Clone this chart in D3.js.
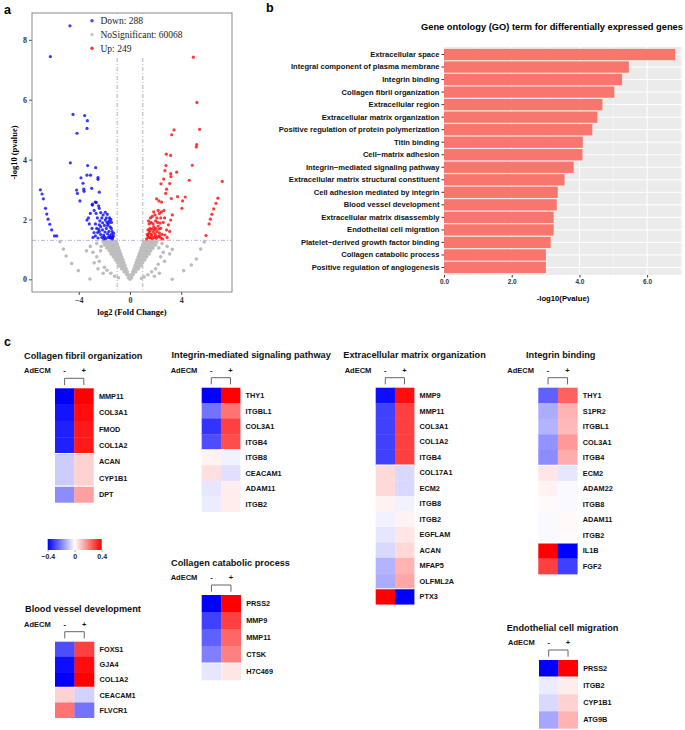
<!DOCTYPE html>
<html><head><meta charset="utf-8">
<script src="https://cdn.jsdelivr.net/npm/d3@7"></script>
<style>body{margin:0;background:#fff} svg{display:block}</style>
</head><body>
<svg id="fig" width="685" height="730"></svg>
<script>
// ---------------- DATA ----------------
// Panel a: volcano plot
const volcanoXTicks = [-4, 0, 4];
const volcanoYTicks = [0, 2, 4, 6, 8];
const legendLabels = ["Down: 288", "NoSignificant: 60068", "Up: 249"];
const fcCut = [-1, 1];
const pCut = 1.301;

const downPoints = [
 [-4.69,8.47],[-6.22,7.44],[-4.45,5.51],[-3.54,5.47],[-3.33,5.30],[-3.36,5.04],[-4.14,4.88],
 [-4.66,3.89],[-3.31,3.80],[-2.68,3.73],[-3.36,3.48],[-3.08,3.48],[-2.5,3.40],[-2.5,3.34],
 [-3.83,3.39],[-3.67,3.21],[-2.99,3.04],[-4.17,2.98],[-3.61,3.01],[-4.11,2.87],[-3.59,2.94],
 [-2.40,2.91],[-3.91,2.62],[-2.72,2.58],[-2.94,2.51],
 [-7.0,2.99],[-6.87,2.85],[-6.77,2.69],[-6.6,2.37],[-6.5,2.18],[-6.4,2.01],[-6.27,1.84],
 [-6.12,1.65],[-5.9,1.45],[-5.72,1.45],
 [-2.94,2.48],[-2.63,2.57],[-2.40,2.37],[-2.29,2.23],[-1.93,2.24],[-1.77,2.17],[-3.36,1.98],
 [-3.18,1.85],[-2.97,1.70],[-2.81,1.56],[-2.89,1.40],[-2.53,1.56],[-2.45,1.67],[-2.29,1.76],
 [-2.14,1.89],[-1.93,1.98],[-1.67,1.87],[-1.46,1.70],[-1.28,1.54],[-1.35,1.40],[-1.72,1.40],
 [-2.06,1.48],[-2.55,2.05],[-2.2,2.05],[-1.6,2.05],[-2.35,1.95],[-1.8,1.9],[-2.0,1.8],
 [-1.55,1.75],[-1.85,1.7],[-2.15,1.65],[-1.65,1.6],[-1.95,1.58],[-2.3,1.5],[-1.45,1.5],
 [-1.75,1.52],[-2.2,1.4],[-1.55,1.38],[-1.9,1.36],[-2.5,1.38],[-1.4,1.6],[-1.3,1.45],
 [-2.65,2.2],[-2.1,2.15],[-1.5,2.0],[-2.7,1.85],[-2.6,1.7],[-2.4,1.6],[-1.6,1.45],
 [-2.0,1.42],[-1.38,1.35],[-1.75,1.8],[-2.45,2.45],[-2.8,2.3],[-3.1,2.2],[-3.25,2.05],
 [-1.45,1.9],[-1.85,2.05],[-2.05,1.35],[-1.62,1.95],[-2.4,1.82],[-1.5,1.4],[-2.7,1.45]
];
const upPoints = [
 [4.95,7.42],[5.23,5.91],[5.44,5.01],[3.44,4.99],[3.26,4.83],[5.21,4.50],[5.18,4.42],
 [2.84,4.18],[3.18,4.14],[4.87,3.81],[2.81,3.80],[2.73,3.63],[3.65,3.58],[3.18,3.53],
 [3.2,3.43],[4.63,3.31],[2.42,3.19],[2.63,3.35],[3.1,3.2],[2.86,3.01],[2.79,2.87],
 [3.23,2.7],[3.72,2.76],[4.11,2.62],[4.32,2.75],[4.06,2.37],[2.08,2.69],[2.26,2.62],[2.47,2.58],
 [7.21,3.27],[6.87,2.71],[6.72,2.54],[6.54,2.35],[6.4,2.17],[6.28,2.01],[6.18,1.85],[5.94,1.46],
 [1.3,1.35],[1.45,1.4],[1.6,1.38],[1.75,1.36],[1.9,1.4],[2.05,1.37],[2.2,1.42],[2.4,1.38],
 [1.35,1.5],[1.5,1.55],[1.65,1.5],[1.8,1.58],[1.95,1.52],[2.1,1.6],[2.3,1.55],[1.4,1.65],
 [1.55,1.7],[1.7,1.68],[1.85,1.75],[2.0,1.7],[2.2,1.78],[2.4,1.7],[1.5,1.85],[1.65,1.9],
 [1.8,1.85],[2.0,1.95],[2.15,1.9],[2.35,1.88],[1.6,2.05],[1.75,2.1],[1.95,2.15],[2.1,2.05],
 [2.3,2.2],[2.45,2.25],[1.85,2.25],[2.2,2.3],[2.5,1.5],[2.73,1.48],[2.86,1.65],[3.0,1.82],
 [3.18,1.98],[3.31,2.15],[2.6,1.9],[2.7,2.05],[2.55,1.35],[2.9,1.4],[3.1,1.6],[2.65,2.3],
 [2.4,2.05],[1.45,1.95],[1.4,1.45],[1.7,1.45],[2.0,1.45],[2.3,1.45],[1.55,1.62],[1.9,1.65],[2.25,1.68]
];
const nsPoints = [
 // left arm
 [0,0.01],[0.03,0.02],[-0.03,0.02],[-0.06,0.05],[-0.12,0.05],
 [-0.13,0.15],[-0.25,0.15],[-0.21,0.25],[-0.33,0.25],[-0.45,0.25],
 [-0.3,0.35],[-0.42,0.35],[-0.55,0.35],[-0.65,0.35],
 [-0.38,0.45],[-0.5,0.45],[-0.62,0.45],[-0.75,0.45],[-0.85,0.45],
 [-0.47,0.55],[-0.6,0.55],[-0.72,0.55],[-0.85,0.55],[-0.98,0.55],
 [-0.55,0.65],[-0.68,0.65],[-0.8,0.65],[-0.93,0.65],[-1.05,0.65],[-1.15,0.65],
 [-0.64,0.75],[-0.76,0.75],[-0.89,0.75],[-1.02,0.75],[-1.15,0.75],[-1.3,0.75],
 [-0.72,0.85],[-0.85,0.85],[-0.98,0.85],[-1.11,0.85],[-1.24,0.85],[-1.37,0.85],[-1.48,0.85],
 [-0.81,0.95],[-0.94,0.95],[-1.07,0.95],[-1.2,0.95],[-1.33,0.95],[-1.46,0.95],[-1.62,0.95],
 [-0.89,1.05],[-1.02,1.05],[-1.15,1.05],[-1.28,1.05],[-1.41,1.05],[-1.54,1.05],[-1.67,1.05],[-1.8,1.05],
 [-0.98,1.15],[-1.11,1.15],[-1.24,1.15],[-1.37,1.15],[-1.5,1.15],[-1.63,1.15],[-1.76,1.15],[-1.89,1.15],[-1.98,1.15],
 [-1.06,1.25],[-1.19,1.25],[-1.32,1.25],[-1.45,1.25],[-1.58,1.25],[-1.71,1.25],[-1.84,1.25],[-1.97,1.25],[-2.1,1.25],
 // right arm
 [0.06,0.05],[0.12,0.05],[0.13,0.15],[0.25,0.15],[0.21,0.25],[0.33,0.25],[0.45,0.25],
 [0.3,0.35],[0.42,0.35],[0.55,0.35],[0.66,0.35],
 [0.38,0.45],[0.5,0.45],[0.62,0.45],[0.75,0.45],[0.86,0.45],
 [0.47,0.55],[0.6,0.55],[0.72,0.55],[0.85,0.55],[0.99,0.55],
 [0.55,0.65],[0.68,0.65],[0.8,0.65],[0.93,0.65],[1.05,0.65],[1.16,0.65],
 [0.64,0.75],[0.76,0.75],[0.89,0.75],[1.02,0.75],[1.15,0.75],[1.3,0.75],
 [0.72,0.85],[0.85,0.85],[0.98,0.85],[1.11,0.85],[1.24,0.85],[1.37,0.85],[1.5,0.85],
 [0.81,0.95],[0.94,0.95],[1.07,0.95],[1.2,0.95],[1.33,0.95],[1.46,0.95],[1.62,0.95],
 [0.89,1.05],[1.02,1.05],[1.15,1.05],[1.28,1.05],[1.41,1.05],[1.54,1.05],[1.67,1.05],[1.8,1.05],
 [0.98,1.15],[1.11,1.15],[1.24,1.15],[1.37,1.15],[1.5,1.15],[1.63,1.15],[1.76,1.15],[1.89,1.15],[2.0,1.15],
 [1.06,1.25],[1.19,1.25],[1.32,1.25],[1.45,1.25],[1.58,1.25],[1.71,1.25],[1.84,1.25],[1.97,1.25],[2.1,1.25],
 // scattered
 [-5.47,1.26],[-5.2,1.01],[-4.99,0.78],[-4.56,0.53],[-4.04,0.29],[-3.13,0.01],
 [5.8,1.25],[5.52,1.01],[5.18,0.68],[4.79,0.48],[4.19,0.29],[3.3,0.0],
 [-3.1,1.1],[-2.9,0.9],[-2.6,0.75],[-2.8,0.55],[-2.4,0.6],[-2.3,0.95],[-2.6,1.2],[-2.0,0.4],
 [-1.8,0.3],[-1.5,0.2],[-1.2,0.1],[-2.1,0.2],[-0.9,0.05],[-3.4,0.95],[-2.5,0.35],[-2.25,1.1],
 [2.9,1.1],[2.6,0.9],[2.7,0.6],[2.4,0.75],[3.1,0.85],[2.2,0.5],[2.0,0.35],[1.7,0.25],
 [1.4,0.15],[1.1,0.08],[0.9,0.03],[2.5,1.2],[3.3,1.0],[2.3,0.2],[1.9,0.1],[2.25,1.05]
];

// Panel b: GO terms
const goTerms = ["Extracellular space","Integral component of plasma membrane","Integrin binding",
 "Collagen fibril organization","Extracellular region","Extracellular matrix organization",
 "Positive regulation of protein polymerization","Titin binding","Cell\u2212matrix adhesion",
 "Integrin\u2212mediated signaling pathway","Extracellular matrix structural constituent",
 "Cell adhesion mediated by integrin","Blood vessel development","Extracellular matrix disassembly",
 "Endothelial cell migration","Platelet\u2212derived growth factor binding","Collagen catabolic process",
 "Positive regulation of angiogenesis"];
const goValues = [6.83,5.46,5.26,5.03,4.68,4.53,4.38,4.10,4.09,3.83,3.56,3.36,3.33,3.24,3.24,3.15,3.01,3.01];
const goTicks = [0, 2, 4, 6];

// Panel c: heatmaps (columns: AdECM -, +)
const conditions = ["-", "+"];
const colorTicks = [-0.4, 0, 0.4];

const cfoGenes = ["MMP11","COL3A1","FMOD","COL1A2","ACAN","CYP1B1","DPT"];
const cfoMinus = [-0.40,-0.37,-0.35,-0.35,-0.08,-0.08,-0.18];
const cfoPlus  = [ 0.40, 0.38, 0.36, 0.36, 0.07, 0.07, 0.15];

const imsGenes = ["THY1","ITGBL1","COL3A1","ITGB4","ITGB8","CEACAM1","ADAM11","ITGB2"];
const imsMinus = [-0.40,-0.22,-0.32,-0.28, 0.02, 0.05,-0.04,-0.03];
const imsPlus  = [ 0.40, 0.22, 0.30, 0.28,-0.02,-0.05, 0.03, 0.03];

const emoGenes = ["MMP9","MMP11","COL3A1","COL1A2","ITGB4","COL17A1","ECM2","ITGB8","ITGB2","EGFLAM","ACAN","MFAP5","OLFML2A","PTX3"];
const emoMinus = [-0.38,-0.30,-0.30,-0.30,-0.30, 0.06, 0.06, 0.02,-0.02,-0.04,-0.06,-0.12,-0.13, 0.40];
const emoPlus  = [ 0.38, 0.30, 0.30, 0.30, 0.30,-0.06,-0.06,-0.02, 0.02, 0.04, 0.06, 0.12, 0.14,-0.40];

const ibGenes = ["THY1","S1PR2","ITGBL1","COL3A1","ITGB4","ECM2","ADAM22","ITGB8","ADAM11","ITGB2","IL1B","FGF2"];
const ibMinus = [-0.25,-0.13,-0.12,-0.17,-0.18, 0.04, 0.02, 0.01,-0.01,-0.01, 0.40, 0.30];
const ibPlus  = [ 0.25, 0.12, 0.11, 0.16, 0.13,-0.04,-0.01,-0.01, 0.01, 0.01,-0.40,-0.30];

const ccpGenes = ["PRSS2","MMP9","MMP11","CTSK","H7C469"];
const ccpMinus = [-0.40,-0.30,-0.25,-0.20,-0.04];
const ccpPlus  = [ 0.40, 0.30, 0.24, 0.20, 0.04];

const bvdGenes = ["FOXS1","GJA4","COL1A2","CEACAM1","FLVCR1"];
const bvdMinus = [-0.28,-0.38,-0.40, 0.07, 0.22];
const bvdPlus  = [ 0.30, 0.38, 0.40,-0.07,-0.22];

const ecmGenes = ["PRSS2","ITGB2","CYP1B1","ATG9B"];
const ecmMinus = [-0.40,-0.03,-0.06,-0.14];
const ecmPlus  = [ 0.40, 0.03, 0.07, 0.12];

// ---------------- DRAW ----------------
const svg = d3.select("#fig");
const SANS = "'Liberation Sans', Arial, sans-serif";
const SERIF = "'Liberation Serif', 'Times New Roman', serif";

// panel letters
[["a",4,14],["b",266,12],["c",4,346]].forEach(([t,x,y]) =>
  svg.append("text").attr("x",x).attr("y",y).text(t)
    .attr("font-family",SANS).attr("font-weight","bold").attr("font-size",12.5));

// ===== Panel a =====
const vx = d3.scaleLinear().domain([-7.656, 7.97]).range([32, 232]);
const vy = d3.scaleLinear().domain([-0.424, 8.897]).range([292, 13]);
const ga = svg.append("g");

ga.append("rect").attr("x",32).attr("y",13).attr("width",200).attr("height",279)
  .attr("fill","#fff");

// threshold lines
fcCut.forEach(c => ga.append("line").attr("x1",vx(c)).attr("x2",vx(c))
  .attr("y1",vy(8.897)).attr("y2",vy(-0.424))
  .attr("stroke","#a9a9b4").attr("stroke-width",0.9).attr("stroke-dasharray","4,2,1,2"));
ga.append("line").attr("x1",32).attr("x2",232).attr("y1",vy(pCut)).attr("y2",vy(pCut))
  .attr("stroke","#b4aec8").attr("stroke-width",0.9).attr("stroke-dasharray","4,2,1,2");

const ptR = 1.6;
ga.append("g").selectAll("circle").data(nsPoints).join("circle")
  .attr("cx",d=>vx(d[0])).attr("cy",d=>vy(d[1])).attr("r",1.8).attr("fill","#bdbdbd");
ga.append("g").selectAll("circle").data(downPoints).join("circle")
  .attr("cx",d=>vx(d[0])).attr("cy",d=>vy(d[1])).attr("r",ptR).attr("fill","#0000ff").attr("fill-opacity",0.78);
ga.append("g").selectAll("circle").data(upPoints).join("circle")
  .attr("cx",d=>vx(d[0])).attr("cy",d=>vy(d[1])).attr("r",ptR).attr("fill","#ff0000").attr("fill-opacity",0.78);

// legend
const lg = ga.append("g");
lg.append("rect").attr("x",86).attr("y",14).attr("width",100).attr("height",42).attr("fill","#fff");
const legCols = ["#4444ff","#c8c8c8","#ff3333"];
legendLabels.forEach((t,i) => {
  const yy = 20.7 + i*13.8;
  lg.append("circle").attr("cx",92).attr("cy",yy).attr("r",1.7).attr("fill",legCols[i]);
  lg.append("text").attr("x",100.5).attr("y",yy).attr("dy","0.35em").text(t)
    .attr("font-family",SERIF).attr("font-size",9.5).attr("fill","#222");
});

// frame
ga.append("rect").attr("x",32).attr("y",13).attr("width",200).attr("height",279)
  .attr("fill","none").attr("stroke","#8a8a8a").attr("stroke-width",1);

const yAxA = ga.append("g").attr("transform","translate(32,0)")
  .call(d3.axisLeft(vy).tickValues(volcanoYTicks).tickSize(3).tickPadding(2));
const xAxA = ga.append("g").attr("transform","translate(0,292)")
  .call(d3.axisBottom(vx).tickValues(volcanoXTicks).tickSize(3).tickPadding(2));
[yAxA,xAxA].forEach(g => {
  g.select(".domain").remove();
  g.selectAll("line").attr("stroke","#555");
  g.selectAll("text").attr("font-family",SERIF).attr("font-weight","bold")
    .attr("font-size",8).attr("fill","#333");
});
ga.append("text").attr("transform","translate(17,152.5) rotate(-90)").attr("text-anchor","middle")
  .text("-log10 (pvalue)").attr("font-family",SERIF).attr("font-weight","bold").attr("font-size",8.5);
ga.append("text").attr("x",132).attr("y",315).attr("text-anchor","middle")
  .text("log2 (Fold Change)").attr("font-family",SERIF).attr("font-weight","bold").attr("font-size",8.5);

// ===== Panel b =====
const gb = svg.append("g");
const bx = d3.scaleLinear().domain([0, 7.03]).range([444, 682]);
const by = d3.scaleBand().domain(goTerms).range([47, 275]).paddingInner(0.1).paddingOuter(0.15);

gb.append("text").attr("x",552).attr("y",30).attr("text-anchor","middle")
  .text("Gene ontology (GO) term for differentially expressed genes")
  .attr("font-family",SANS).attr("font-weight","bold").attr("font-size",9.3);

gb.append("rect").attr("x",444).attr("y",47).attr("width",238).attr("height",228).attr("fill","#ebebeb");
[1,3,5,7].forEach(v => gb.append("line").attr("x1",bx(v)).attr("x2",bx(v)).attr("y1",47).attr("y2",275)
  .attr("stroke","#fff").attr("stroke-width",0.5));
goTicks.forEach(v => gb.append("line").attr("x1",bx(v)).attr("x2",bx(v)).attr("y1",47).attr("y2",275)
  .attr("stroke","#fff").attr("stroke-width",1));
goTerms.forEach(t => gb.append("line").attr("x1",444).attr("x2",682)
  .attr("y1",by(t)+by.bandwidth()/2).attr("y2",by(t)+by.bandwidth()/2)
  .attr("stroke","#fff").attr("stroke-width",1));

gb.append("g").selectAll("rect").data(goTerms).join("rect")
  .attr("x",bx(0)).attr("y",d=>by(d)).attr("height",by.bandwidth())
  .attr("width",(d,i)=>bx(goValues[i])-bx(0)).attr("fill","#f8766d");

const yAxB = gb.append("g").attr("transform","translate(444,0)")
  .call(d3.axisLeft(by).tickSize(2.5).tickPadding(2));
yAxB.select(".domain").remove();
yAxB.selectAll("line").attr("stroke","#333");
yAxB.selectAll("text").attr("font-family",SANS).attr("font-weight","bold").attr("font-size",7.6).attr("fill","#111");
const xAxB = gb.append("g").attr("transform","translate(0,275)")
  .call(d3.axisBottom(bx).tickValues(goTicks).tickSize(2.5).tickPadding(2));
xAxB.select(".domain").remove();
xAxB.selectAll("line").attr("stroke","#333");
xAxB.selectAll("text").attr("font-family",SANS).attr("font-weight","bold").attr("font-size",6.5).attr("fill","#333");
gb.append("text").attr("x",563).attr("y",301).attr("text-anchor","middle").text("-log10(Pvalue)")
  .attr("font-family",SANS).attr("font-weight","bold").attr("font-size",7.7);

// ===== Panel c =====
const heatColor = d3.scaleLinear().domain([-0.4, 0, 0.4]).range(["#0000ff","#ffffff","#ff0000"]).clamp(true);

const heatmaps = [
  {title:"Collagen fibril organization", genes:cfoGenes, minus:cfoMinus, plus:cfoPlus, gaps:[4,6],
   tx:24, cx:55, cy:388.3, cw:19.2, rh:16.3},
  {title:"Integrin-mediated signaling pathway", genes:imsGenes, minus:imsMinus, plus:imsPlus, gaps:[4],
   tx:171.5, cx:201.7, cy:387.7, cw:19.2, rh:15.5},
  {title:"Extracellular matrix organization", genes:emoGenes, minus:emoMinus, plus:emoPlus, gaps:[5,13],
   tx:343.3, cx:375.7, cy:387.7, cw:19.2, rh:15.47},
  {title:"Integrin binding", genes:ibGenes, minus:ibMinus, plus:ibPlus, gaps:[5,10],
   tx:526, cx:538.3, cy:387.7, cw:19.5, rh:15.53},
  {title:"Collagen catabolic process", genes:ccpGenes, minus:ccpMinus, plus:ccpPlus, gaps:[4],
   tx:171, cx:201.7, cy:595, cw:19.5, rh:17},
  {title:"Blood vessel development", genes:bvdGenes, minus:bvdMinus, plus:bvdPlus, gaps:[3],
   tx:25, cx:55, cy:641.7, cw:19.5, rh:15.2},
  {title:"Endothelial cell migration", genes:ecmGenes, minus:ecmMinus, plus:ecmPlus, gaps:[1],
   tx:506.7, cx:539, cy:660, cw:19.35, rh:17.1}
];

heatmaps.forEach(h => {
  const g = svg.append("g");
  const xs = d3.scaleBand().domain(conditions).range([h.cx, h.cx + 2*h.cw]);
  const ys = d3.scaleBand().domain(h.genes).range([h.cy, h.cy + h.genes.length*h.rh]);
  const cells = [];
  h.genes.forEach((gname,i) => {
    cells.push({gene:gname, cond:"-", v:h.minus[i]});
    cells.push({gene:gname, cond:"+", v:h.plus[i]});
  });
  g.selectAll("rect.cell").data(cells).join("rect").attr("class","cell")
    .attr("x",d=>xs(d.cond)).attr("y",d=>ys(d.gene))
    .attr("width",xs.bandwidth()+0.3).attr("height",ys.bandwidth()+0.3)
    .attr("fill",d=>heatColor(d.v));
  h.gaps.forEach(k => {
    const yy = ys(h.genes[k]);
    g.append("line").attr("x1",h.cx).attr("x2",h.cx+2*h.cw).attr("y1",yy).attr("y2",yy)
      .attr("stroke","#fff").attr("stroke-width",1.1);
  });
  // row labels
  g.selectAll("text.lab").data(h.genes).join("text").attr("class","lab")
    .attr("x",h.cx + 2*h.cw + 5.5).attr("y",d=>ys(d)+ys.bandwidth()/2).attr("dy","0.36em")
    .text(d=>d).attr("font-family",SANS).attr("font-weight","bold").attr("font-size",7.3).attr("fill","#111");
  // title
  g.append("text").attr("x",h.tx).attr("y",h.cy-29.3).text(h.title)
    .attr("font-family",SANS).attr("font-weight","bold").attr("font-size",9.2).attr("fill","#111");
  // AdECM header
  g.append("text").attr("x",h.cx-31).attr("y",h.cy-15).text("AdECM")
    .attr("font-family",SANS).attr("font-weight","bold").attr("font-size",7.5).attr("fill","#111");
  conditions.forEach(c => g.append("text").attr("x",xs(c)+xs.bandwidth()/2).attr("y",h.cy-15)
    .attr("text-anchor","middle").text(c)
    .attr("font-family",SANS).attr("font-weight","bold").attr("font-size",7.5).attr("fill","#111"));
  // bracket
  const x1 = xs("-")+xs.bandwidth()/2, x2 = xs("+")+xs.bandwidth()/2;
  const yT = h.cy-10, yB = h.cy-3.3;
  g.append("path").attr("d",`M${x1},${yB}V${yT}H${x2}V${yB}`)
    .attr("fill","none").attr("stroke","#555").attr("stroke-width",0.9);
});

// colour key
const cs = d3.scaleLinear().domain([-0.4, 0.4]).range([47.7, 101.7]);
const defs = svg.append("defs");
const grad = defs.append("linearGradient").attr("id","hg").attr("x1","0%").attr("x2","100%");
d3.range(0, 1.0001, 0.1).forEach(t => grad.append("stop")
  .attr("offset",(t*100)+"%").attr("stop-color",heatColor(-0.4 + 0.8*t)));
svg.append("rect").attr("x",cs(-0.4)).attr("y",539).attr("width",cs(0.4)-cs(-0.4)).attr("height",11)
  .attr("fill","url(#hg)");
const key = svg.append("g").attr("transform","translate(0,550)")
  .call(d3.axisBottom(cs).tickValues(colorTicks).tickFormat(d=>d===0?"0":d3.format(".1f")(d)).tickSize(2).tickPadding(2.5));
key.select(".domain").remove();
key.selectAll("line").attr("stroke","#bbb");
key.selectAll("text").attr("font-family",SANS).attr("font-weight","bold").attr("font-size",7).attr("fill","#222");
</script>
</body></html>
